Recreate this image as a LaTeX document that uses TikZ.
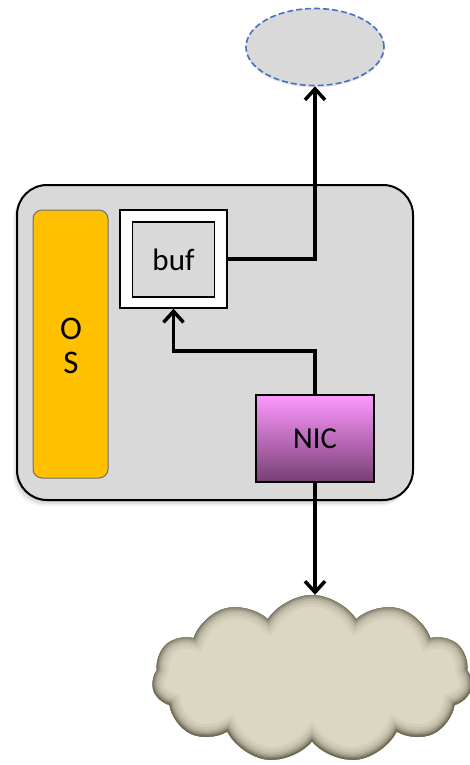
\documentclass[tikz,border=0pt]{standalone}
\usepackage{fontspec}
\setmainfont{Carlito}
\usetikzlibrary{shapes.geometric,shapes.symbols,arrows.meta,shadows}

\definecolor{panel}{HTML}{D9D9D9}
\definecolor{osfill}{HTML}{FFC000}
\definecolor{osedge}{HTML}{6E6E6E}
\definecolor{nictop}{HTML}{FF99FF}
\definecolor{nicbot}{HTML}{773F74}
\definecolor{peeredge}{HTML}{4472C4}
\definecolor{cloudfill}{HTML}{DCD7C2}
\definecolor{cloudedge}{HTML}{6F6B58}

\tikzset{
  softshadow/.style={
    drop shadow={shadow xshift=-1pt, shadow yshift=-2pt, opacity=.18},
    drop shadow={shadow xshift=-2.5pt, shadow yshift=-4pt, opacity=.15},
    drop shadow={shadow xshift=-4pt, shadow yshift=-6pt, opacity=.1}},
  link/.style={line width=3.8pt, -{Straight Barb[length=11pt, width=20pt, line width=3.5pt]}},
  netcloud/.style={cloud, cloud puffs=11, cloud puff arc=115, cloud ignores aspect,
    minimum width=320pt, minimum height=168pt, inner sep=0pt},
  label/.style={font=\fontsize{29}{34}\selectfont, align=center},
}

\begin{document}
\begin{tikzpicture}[x=1pt, y=-1pt]
\useasboundingbox (0,0) rectangle (470,765);

% remote endpoint
\node[ellipse, minimum width=138pt, minimum height=77pt, fill=panel,
      draw=peeredge, line width=1.6pt, dash pattern=on 6pt off 3pt,
      drop shadow={shadow xshift=0pt, shadow yshift=-2pt, opacity=.2}]
  (peer) at (315,47) {};

% host
\node[draw, line width=2pt, rounded corners=30pt, fill=panel,
      minimum width=396pt, minimum height=315pt, softshadow]
  (host) at (215,342.5) {};

\node[draw=osedge, line width=1pt, rounded corners=9pt, fill=osfill,
      minimum width=75pt, minimum height=268pt] (os) at (70.5,344) {};
\node[label, font=\fontsize{33}{33.5}\selectfont] (oslabel) at (71,346) {O\\S};

\node[draw, line width=1.5pt, fill=white,
      minimum width=107pt, minimum height=98pt] (bufo) at (173.5,259) {};
\node[draw, line width=1.5pt, fill=panel,
      minimum width=82pt, minimum height=75pt, label,
      font=\fontsize{31}{34}\selectfont] (buf) at (173.5,259.5) {buf};

\node[draw, line width=2pt, top color=nictop, bottom color=nicbot,
      minimum width=118pt, minimum height=87pt, label,
      font=\fontsize{30.5}{34}\selectfont] (nic) at (315,438.5) {NIC};

% network, with its rim shaded inwards
\node[netcloud, fill=cloudfill,
      path picture={
        \foreach \w/\p in {24/8, 18/18, 13/30, 9/45, 6/62, 3.5/80, 1.5/100}
          \node[netcloud, fill=none, draw=cloudedge!\p!cloudfill, line width=\w pt]
            at (path picture bounding box.center) {};
      }] (net) at (312,679) {};

% data path
\draw[link] (nic.north) -- ++(0,-43) -| (bufo.south);
\draw[link] (bufo.east) -| (peer.south);
\draw[link] (nic.south) -- (nic.south |- net.north);
\end{tikzpicture}
\end{document}
